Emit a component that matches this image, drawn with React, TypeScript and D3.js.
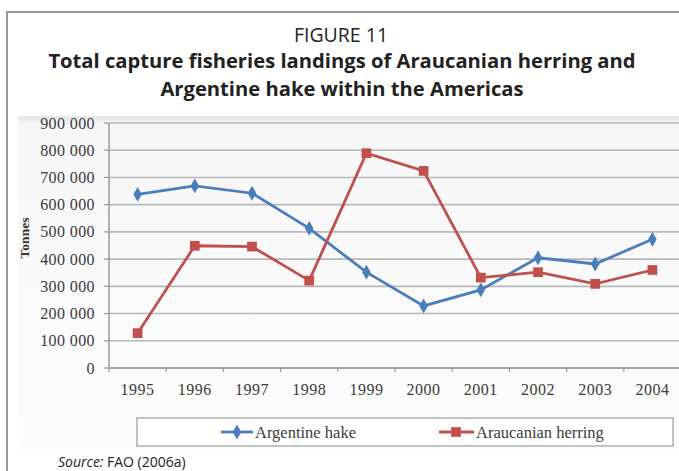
import React from "react";
import * as d3 from "d3";

const years = ["1995","1996","1997","1998","1999","2000","2001","2002","2003","2004"];
const argentineHake = [638000, 669000, 642000, 513000, 352000, 228000, 287000, 405000, 382000, 473000];
const araucanianHerring = [128000, 449000, 446000, 321000, 789000, 724000, 332000, 352000, 309000, 360000];
const yTicks = [0, 100000, 200000, 300000, 400000, 500000, 600000, 700000, 800000, 900000];
const seriesNames = ["Argentine hake", "Araucanian herring"];
const colors = ["#4a7ebb", "#c0504d"];

const W = 679, H = 471;
const plotLeft = 109, plotRight = 681, plotTop = 123, plotBottom = 368;

export default function App() {
  const x = d3.scaleBand<string>().domain(years).range([plotLeft, plotRight]).padding(0);
  const cx = (d: string) => (x(d) as number) + x.bandwidth() / 2;
  const y = d3.scaleLinear().domain([0, 900000]).range([plotBottom, plotTop]);
  const fmt = (v: number) => d3.format(",")(v).replace(/,/g, " ");
  const line = d3.line<number>().x((_, i) => cx(years[i])).y((v) => y(v));
  const serif = "'Liberation Serif', 'Times New Roman', serif";
  const sans = "'Open Sans', 'Noto Sans', sans-serif";
  const diamond = d3.symbol().type(d3.symbolDiamond).size(64)();
  const square = d3.symbol().type(d3.symbolSquare).size(95)();

  return (
    <svg width={W} height={H} style={{ position: "absolute", left: 0, top: 0, background: "#fff" }}>
      <defs>
        <linearGradient id="bg" x1="0" y1="0" x2="0" y2="1">
          <stop offset="0" stopColor="#e4e4e4" />
          <stop offset="0.025" stopColor="#f6f6f6" />
          <stop offset="1" stopColor="#fdfdfd" />
        </linearGradient>
      </defs>
      {/* frame */}
      <path d={`M7,${H + 2} V12 H${W + 2}`} fill="none" stroke="#7a7a7a" strokeWidth={1.5} />
      {/* titles */}
      <text x={341} y={42} textAnchor="middle" fontFamily={sans} fontSize={19.5} fill="#222">FIGURE 11</text>
      <text x={342} y={68} textAnchor="middle" fontFamily={sans} fontWeight="bold" fontSize={20.2} fill="#222">
        Total capture fisheries landings of Araucanian herring and
      </text>
      <text x={342} y={96} textAnchor="middle" fontFamily={sans} fontWeight="bold" fontSize={20.2} fill="#222">
        Argentine hake within the Americas
      </text>
      {/* chart area */}
      <rect x={18} y={116} width={W - 18} height={337} fill="url(#bg)" />
      {/* gridlines */}
      {yTicks.map((t) => (
        <line key={"g" + t} x1={plotLeft} x2={plotRight} y1={y(t)} y2={y(t)} stroke="#b8b8b8" strokeWidth={1.6} />
      ))}
      {/* y axis */}
      <line x1={plotLeft} x2={plotLeft} y1={plotTop} y2={plotBottom} stroke="#9a9a9a" strokeWidth={1.5} />
      {yTicks.map((t) => (
        <g key={"yt" + t}>
          <line x1={plotLeft - 5} x2={plotLeft} y1={y(t)} y2={y(t)} stroke="#9a9a9a" strokeWidth={1.2} />
          <text x={95} y={y(t)} dy="0.35em" textAnchor="end" fontFamily={serif} fontSize={16} letterSpacing={0.4} fill="#3a3a3a">{fmt(t)}</text>
        </g>
      ))}
      {/* x axis */}
      <line x1={plotLeft} x2={plotRight} y1={plotBottom} y2={plotBottom} stroke="#9a9a9a" strokeWidth={1.5} />
      {years.map((yr) => (
        <g key={"xt" + yr}>
          <line x1={x(yr) as number} x2={x(yr) as number} y1={plotBottom} y2={plotBottom + 4} stroke="#9a9a9a" strokeWidth={1.2} />
          <text x={cx(yr)} y={389} dy="0.35em" textAnchor="middle" fontFamily={serif} fontSize={16} letterSpacing={0.5} fill="#3a3a3a">{yr}</text>
        </g>
      ))}
      <text transform={`translate(24,238) rotate(-90)`} textAnchor="middle" dy="0.35em" fontFamily={serif} fontWeight="bold" fontSize={13.5} fill="#333">Tonnes</text>
      {/* series */}
      <path d={line(argentineHake) as string} fill="none" stroke={colors[0]} strokeWidth={2.8} />
      <path d={line(araucanianHerring) as string} fill="none" stroke={colors[1]} strokeWidth={2.8} />
      {argentineHake.map((v, i) => (
        <path key={"a" + i} d={diamond as string} transform={`translate(${cx(years[i])},${y(v)})`} fill={colors[0]} />
      ))}
      {araucanianHerring.map((v, i) => (
        <path key={"h" + i} d={square as string} transform={`translate(${cx(years[i])},${y(v)})`} fill={colors[1]} />
      ))}
      {/* legend */}
      <rect x={137} y={418} width={536} height={28} fill="#fff" stroke="#9a9a9a" strokeWidth={1.2} />
      <line x1={221} x2={253} y1={432} y2={432} stroke={colors[0]} strokeWidth={2.8} />
      <path d={diamond as string} transform="translate(237,432)" fill={colors[0]} />
      <text x={255} y={432} dy="0.35em" fontFamily={serif} fontSize={16.5} fill="#3a3a3a">{seriesNames[0]}</text>
      <line x1={439} x2={474} y1={432} y2={432} stroke={colors[1]} strokeWidth={2.8} />
      <path d={square as string} transform="translate(456,432)" fill={colors[1]} />
      <text x={476} y={432} dy="0.35em" fontFamily={serif} fontSize={16.5} fill="#3a3a3a">{seriesNames[1]}</text>
      {/* source */}
      <text x={58} y={467} fontFamily={sans} fontSize={14} fill="#222">
        <tspan fontStyle="italic">Source:</tspan> FAO (2006a)
      </text>
    </svg>
  );
}
